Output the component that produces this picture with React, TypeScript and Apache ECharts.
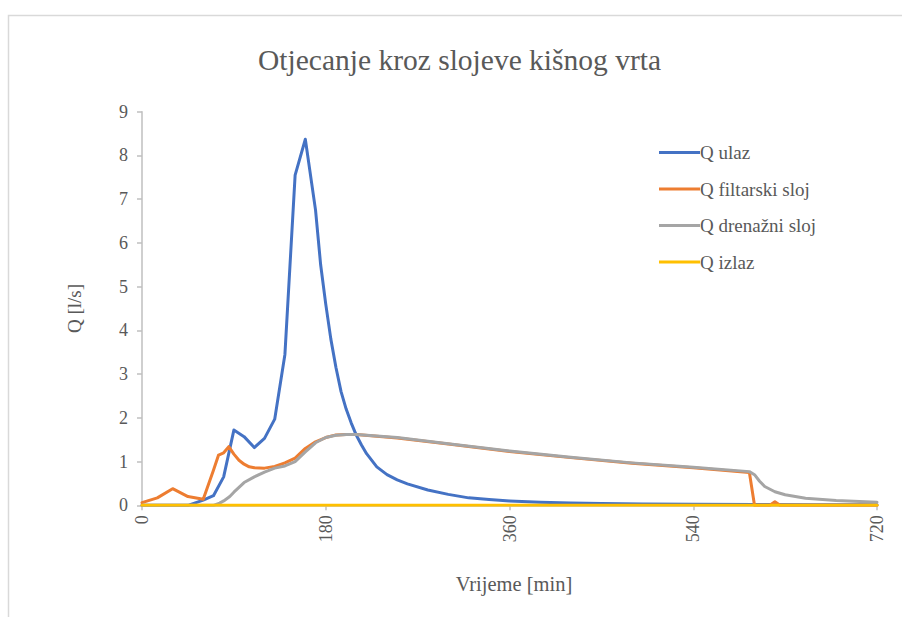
import React, { useEffect, useRef } from "react";
import * as echarts from "echarts";

const TITLE = "Otjecanje kroz slojeve kišnog vrta";
const X_NAME = "Vrijeme [min]";
const Y_NAME = "Q [l/s]";
const SERIES_NAMES = ["Q ulaz", "Q filtarski sloj", "Q drenažni sloj", "Q izlaz"];
const COLORS = ["#4472C4", "#ED7D31", "#A5A5A5", "#FFC000"];

// Q ulaz
const tUlaz = [0, 45, 60, 70, 80, 90, 100, 110, 120, 130, 140, 150, 160, 170, 175, 180, 185, 190, 195, 200, 205, 210, 215, 220, 230, 240, 250, 260, 280, 300, 320, 340, 360, 390, 420, 450, 490, 540, 600, 660, 720];
const qUlaz = [0, 0, 0.12, 0.22, 0.65, 1.72, 1.57, 1.32, 1.53, 1.97, 3.45, 7.55, 8.37, 6.75, 5.5, 4.6, 3.8, 3.15, 2.6, 2.2, 1.88, 1.6, 1.38, 1.18, 0.88, 0.7, 0.58, 0.49, 0.35, 0.25, 0.17, 0.13, 0.1, 0.07, 0.05, 0.04, 0.03, 0.025, 0.02, 0.015, 0.01];

// Q filtarski sloj
const tFilt = [0, 15, 30, 45, 60, 70, 75, 80, 85, 90, 95, 100, 105, 110, 120, 130, 140, 150, 160, 170, 180, 190, 200, 210, 250, 300, 360, 420, 480, 540, 595, 600, 615, 620, 625, 720];
const qFilt = [0.06, 0.17, 0.38, 0.2, 0.14, 0.8, 1.15, 1.2, 1.34, 1.17, 1.03, 0.94, 0.88, 0.86, 0.85, 0.89, 0.97, 1.08, 1.3, 1.45, 1.55, 1.61, 1.62, 1.62, 1.54, 1.4, 1.23, 1.09, 0.96, 0.86, 0.75, 0, 0, 0.08, 0, 0];

// Q drenažni sloj
const tDren = [0, 70, 76, 80, 86, 90, 100, 110, 120, 130, 140, 150, 160, 170, 180, 190, 200, 210, 250, 300, 360, 420, 480, 540, 595, 600, 605, 610, 620, 630, 650, 680, 720];
const qDren = [0, 0, 0.05, 0.1, 0.2, 0.3, 0.52, 0.65, 0.76, 0.85, 0.9, 1.0, 1.22, 1.43, 1.55, 1.6, 1.62, 1.62, 1.55, 1.41, 1.24, 1.1, 0.97, 0.87, 0.77, 0.7, 0.55, 0.43, 0.31, 0.24, 0.16, 0.11, 0.07];

// Q izlaz
const tIzlaz = [0, 720];
const qIzlaz = [0, 0];

const X_TICKS = [0, 180, 360, 540, 720];
const Y_MAX = 9;

const FONT = "Liberation Serif";
const TEXT = "#595959";

function pairs(t: number[], q: number[]) {
  return t.map((v, i) => [v, q[i]]);
}

export default function App() {
  const ref = useRef<HTMLDivElement>(null);
  useEffect(() => {
    document.body.style.margin = "0";
    const chart = echarts.init(ref.current!, undefined, { renderer: "svg" });
    const datasets = [
      pairs(tUlaz, qUlaz),
      pairs(tFilt, qFilt),
      pairs(tDren, qDren),
      pairs(tIzlaz, qIzlaz),
    ];
    chart.setOption({
      animation: false,
      backgroundColor: "#ffffff",
      textStyle: { fontFamily: FONT },
      title: {
        text: TITLE,
        left: 253,
        top: 40,
        textStyle: { fontFamily: FONT, fontSize: 29.5, fontWeight: "normal", color: TEXT },
      },
      graphic: [
        {
          type: "rect",
          shape: { x: 8.5, y: 15.5, width: 1200, height: 1200 },
          style: { fill: "none", stroke: "#d9d9d9", lineWidth: 1.5 },
          silent: true,
        },
      ],
      legend: {
        orient: "vertical",
        left: 654,
        top: 138,
        itemWidth: 41,
        itemHeight: 3,
        itemGap: 17.5,
        icon: "rect",
        data: SERIES_NAMES,
        textStyle: { fontFamily: FONT, fontSize: 19, color: TEXT, padding: [0, 0, 0, -5] },
      },
      grid: { left: 142, right: 25, top: 111.7, bottom: 111.7, containLabel: false },
      xAxis: {
        type: "value",
        min: 0,
        max: 720,
        interval: 180,
        name: X_NAME,
        nameLocation: "middle",
        nameGap: 68,
        nameTextStyle: { fontFamily: FONT, fontSize: 20.5, color: TEXT, padding: [0, 0, 0, 9] },
        axisLine: { show: true, onZero: false, lineStyle: { color: "#bfbfbf", width: 1.5 } },
        axisTick: { show: true, length: 5, lineStyle: { color: "#bfbfbf", width: 1.5 } },
        axisLabel: {
          rotate: 90,
          margin: 10,
          fontFamily: FONT,
          fontSize: 18,
          color: TEXT,
          formatter: (v: number) => (X_TICKS.includes(v) ? String(v) : ""),
        },
        splitLine: { show: false },
      },
      yAxis: {
        type: "value",
        min: 0,
        max: Y_MAX,
        interval: 1,
        name: Y_NAME,
        nameLocation: "middle",
        nameGap: 58,
        nameRotate: 90,
        nameTextStyle: { fontFamily: FONT, fontSize: 19, color: TEXT },
        axisLine: { show: true, lineStyle: { color: "#bfbfbf", width: 1.5 } },
        axisTick: { show: true, length: 5, lineStyle: { color: "#bfbfbf", width: 1.5 } },
        axisLabel: { margin: 14, fontFamily: FONT, fontSize: 18, color: TEXT },
        splitLine: { show: false },
      },
      series: SERIES_NAMES.map((name, i) => ({
        name,
        type: "line",
        data: datasets[i],
        symbol: "none",
        smooth: false,
        color: COLORS[i],
        lineStyle: { color: COLORS[i], width: 3, cap: "round", join: "round" },
        z: 2 + i,
      })),
    });
    return () => chart.dispose();
  }, []);
  return <div ref={ref} style={{ width: 902, height: 617 }} />;
}
